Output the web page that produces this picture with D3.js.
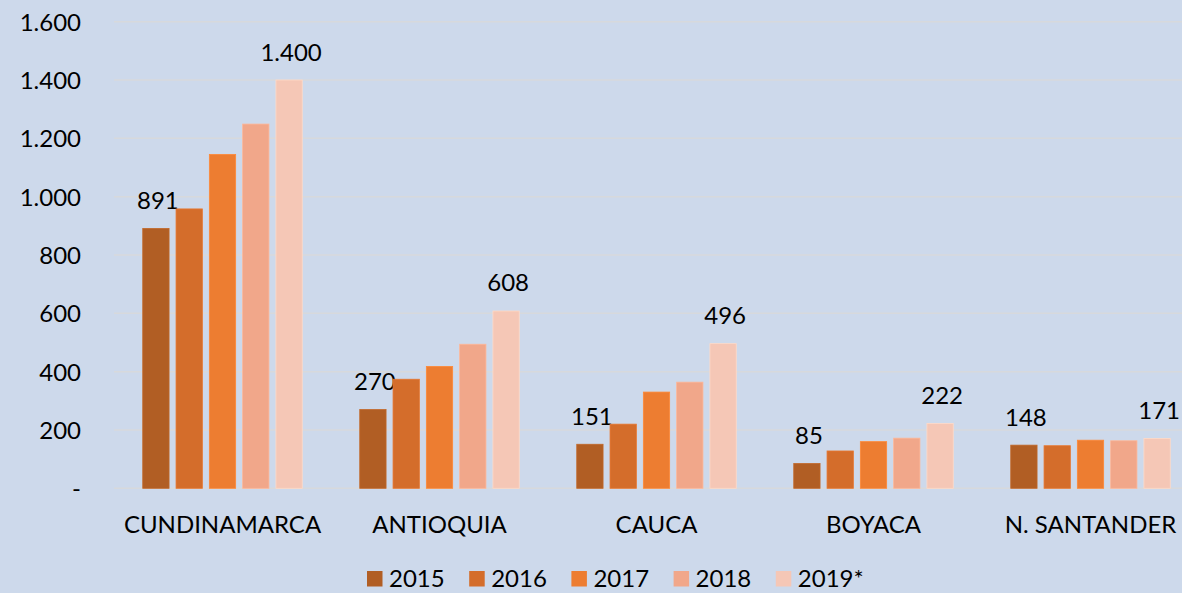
<!DOCTYPE html>
<html><head><meta charset="utf-8">
<script src="https://cdn.jsdelivr.net/npm/d3@7/dist/d3.min.js"></script>
<style>
html,body{margin:0;padding:0;background:#cdd9eb;overflow:hidden;}
svg{display:block;font-family:Lato, "Open Sans", sans-serif;}
</style></head><body>
<svg id="chart" width="1182" height="593"></svg>
<script>
const categories = ["CUNDINAMARCA","ANTIOQUIA","CAUCA","BOYACA","N. SANTANDER"];
const seriesNames = ["2015","2016","2017","2018","2019*"];
const v2015 = [891,270,151,85,148];
const v2016 = [958,374,220,128,146];
const v2017 = [1145,418,330,160,165];
const v2018 = [1249,494,364,172,163];
const v2019 = [1400,608,496,222,171];
const seriesValues = [v2015,v2016,v2017,v2018,v2019];
const yTicks = [0,200,400,600,800,1000,1200,1400,1600];
const colors = ["#b15e24","#d46d2b","#ed7d31","#f1a78a","#f5c7b6"];
const labeledSeries = [0,4];
const FS = "24px";

const svg = d3.select("#chart");
const W = 1182, H = 593;
const m = {left:114, top:21.7, plotRight:1199, bottom:488.3};

const locale = d3.formatLocale({decimal:",",thousands:".",grouping:[3],currency:["$",""]});
const fmt = v => v === 0 ? "-" : locale.format(",d")(v);

const x0 = d3.scaleBand().domain(categories).range([m.left, m.plotRight]).paddingInner(0.265).paddingOuter(0.1325);
const x1 = d3.scaleBand().domain(seriesNames).range([0, x0.bandwidth()]).paddingInner(0.21).paddingOuter(0);
const y = d3.scaleLinear().domain([0,1600]).range([m.bottom, m.top]);

// gridlines
svg.append("g").selectAll("line").data(yTicks).join("line")
  .attr("x1", m.left).attr("x2", W)
  .attr("y1", d=>y(d)).attr("y2", d=>y(d))
  .attr("stroke","#d7d9dc").attr("stroke-width",1.5);

// y axis labels
const yAxis = d3.axisLeft(y).tickValues(yTicks).tickFormat(fmt).tickSize(0).tickPadding(0);
const ya = svg.append("g").attr("transform","translate(81,0)").call(yAxis);
ya.select(".domain").remove();
ya.selectAll("text").attr("font-size",FS).attr("fill","#000").attr("font-family","Lato, sans-serif")
  .attr("dy","0.35em");

// bars
const groups = svg.append("g").selectAll("g").data(categories).join("g")
  .attr("transform", d=>`translate(${x0(d)},0)`);
groups.each(function(cat, ci){
  const g = d3.select(this);
  seriesNames.forEach((s, si)=>{
    const val = seriesValues[si][ci];
    g.append("rect")
      .attr("x", x1(s)).attr("width", x1.bandwidth())
      .attr("y", y(val)).attr("height", y(0)-y(val))
      .attr("fill", colors[si])
      .attr("stroke", d3.color(colors[si]).brighter(0.25)).attr("stroke-width",0.8);
    if (labeledSeries.includes(si)) {
      g.append("text")
        .attr("x", x1(s)+x1.bandwidth()/2+2)
        .attr("y", y(val)-19.5)
        .attr("text-anchor","middle")
        .attr("font-size",FS).attr("fill","#000")
        .text(fmt(val));
    }
  });
});

// x axis labels
const xAxis = d3.axisBottom(x0).tickSize(0).tickPadding(0);
const xa = svg.append("g").attr("transform",`translate(0,533)`).call(xAxis);
xa.select(".domain").remove();
xa.selectAll("text").attr("font-size",FS).attr("fill","#000").attr("font-family","Lato, sans-serif").attr("dy","0");

// legend
const legend = svg.append("g").attr("transform","translate(367,571)");
const items = legend.selectAll("g").data(seriesNames).join("g")
  .attr("transform",(d,i)=>`translate(${i*102.2},0)`);
items.append("rect").attr("width",15.5).attr("height",15.5).attr("fill",(d,i)=>colors[i]);
items.append("text").attr("x",22).attr("y",16).attr("font-size",FS).attr("fill","#000").text(d=>d);
</script>
</body></html>
